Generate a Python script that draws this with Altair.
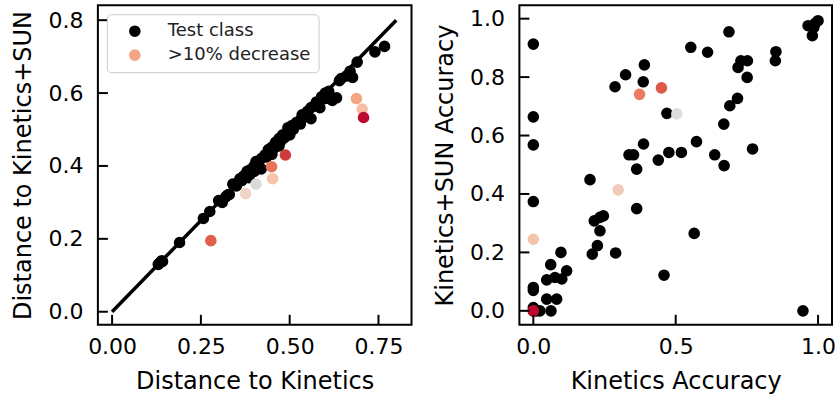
import altair as alt
import pandas as pd

# ---------------- Left panel: distances ----------------
left_black_x = [0.13, 0.135, 0.14, 0.142, 0.19, 0.257, 0.275, 0.30, 0.31, 0.32, 0.325, 0.33,
                0.34, 0.35, 0.355, 0.36, 0.365, 0.37, 0.38, 0.382, 0.39, 0.40, 0.405, 0.41,
                0.42, 0.42, 0.43, 0.435, 0.44, 0.445, 0.45, 0.455, 0.46, 0.465, 0.47, 0.475,
                0.48, 0.485, 0.49, 0.495, 0.50, 0.505, 0.51, 0.515, 0.52, 0.53, 0.535, 0.54,
                0.55, 0.56, 0.56, 0.57, 0.575, 0.58, 0.59, 0.60, 0.61, 0.62, 0.632, 0.64,
                0.645, 0.66, 0.67, 0.677, 0.69, 0.74, 0.767,
                0.385, 0.40, 0.45, 0.47, 0.50, 0.53, 0.55, 0.585, 0.60]
left_black_y = [0.13, 0.135, 0.14, 0.138, 0.19, 0.256, 0.275, 0.305, 0.30, 0.315, 0.32, 0.322,
                0.35, 0.345, 0.355, 0.365, 0.36, 0.372, 0.385, 0.375, 0.39, 0.40, 0.412, 0.405,
                0.392, 0.42, 0.43, 0.425, 0.445, 0.44, 0.452, 0.448, 0.465, 0.46, 0.475, 0.468,
                0.485, 0.478, 0.49, 0.505, 0.495, 0.51, 0.50, 0.515, 0.52, 0.525, 0.54, 0.535,
                0.55, 0.53, 0.56, 0.565, 0.575, 0.57, 0.59, 0.60, 0.605, 0.58, 0.587, 0.634,
                0.64, 0.647, 0.66, 0.643, 0.685, 0.713, 0.728,
                0.368, 0.385, 0.432, 0.455, 0.485, 0.515, 0.535, 0.56, 0.585]

left_dec_x = [0.278, 0.376, 0.405, 0.452, 0.449, 0.488, 0.688, 0.704, 0.708]
left_dec_y = [0.195, 0.324, 0.35, 0.365, 0.398, 0.43, 0.585, 0.556, 0.533]
left_dec_group = ["d_red2", "d_pale", "d_gray", "d_peach", "d_orange", "d_red1",
                  ">10% decrease", "d_peach2", "d_dark"]

group_names = ["Test class", ">10% decrease", "d_red2", "d_pale", "d_gray", "d_peach",
               "d_orange", "d_red1", "d_peach2", "d_dark"]
group_colors = ["#000000", "#f4a582", "#df5f4b", "#efd3c5", "#dadada", "#f5c4ab",
                "#e8735a", "#cf3b3a", "#f6bfa3", "#be0a2f"]

diag_x = [0.0, 0.8]
diag_y = [0.0, 0.8]

left_xticks = [0.0, 0.25, 0.5, 0.75]
left_yticks = [0.0, 0.2, 0.4, 0.6, 0.8]

# ---------------- Right panel: accuracies ----------------
right_black_x = [0.0, 0.0, 0.0, 0.199, 0.287, 0.324, 0.39, 0.386, 0.469, 0.387, 0.336, 0.352,
                 0.363, 0.439, 0.476, 0.52, 0.573, 0.553, 0.612, 0.687, 0.637, 0.67, 0.669,
                 0.69, 0.717, 0.719, 0.729, 0.752, 0.751, 0.77, 0.852, 0.85, 0.965, 0.98,
                 0.99, 1.0, 0.985,
                 0.0, 0.363, 0.565, 0.214, 0.234, 0.246, 0.234, 0.225, 0.207, 0.289, 0.459,
                 0.947, 0.097, 0.061, 0.047, 0.076, 0.1, 0.117, 0.0, 0.0, 0.047, 0.082, 0.0,
                 0.023, 0.062, 0.0, 0.01]
right_black_y = [0.913, 0.664, 0.568, 0.449, 0.767, 0.808, 0.842, 0.784, 0.676, 0.571, 0.534,
                 0.534, 0.485, 0.516, 0.542, 0.542, 0.579, 0.902, 0.885, 0.955, 0.534, 0.497,
                 0.639, 0.702, 0.727, 0.833, 0.856, 0.856, 0.799, 0.554, 0.887, 0.856, 0.976,
                 0.942, 0.984, 0.993, 0.97,
                 0.374, 0.35, 0.265, 0.308, 0.32, 0.325, 0.274, 0.223, 0.194, 0.198, 0.122,
                 0.0, 0.2, 0.158, 0.106, 0.114, 0.109, 0.137, 0.08, 0.07, 0.04, 0.04, 0.011,
                 0.0, 0.0, 0.0, 0.0]

right_dec_x = [0.373, 0.45, 0.504, 0.298, 0.0, 0.0]
right_dec_y = [0.741, 0.763, 0.674, 0.414, 0.245, 0.0]
right_dec_color = ["#ee7b60", "#dc5a48", "#dddddd", "#f1cbb9", "#f4c3a9", "#be0a2f"]

right_xticks = [0.0, 0.5, 1.0]
right_yticks = [0.0, 0.2, 0.4, 0.6, 0.8, 1.0]

# ---------------- Build tables ----------------
left_df = pd.DataFrame({
    "x": left_black_x + left_dec_x,
    "y": left_black_y + left_dec_y,
    "g": ["Test class"] * len(left_black_x) + left_dec_group,
})
left_df["order"] = range(len(left_df))
right_df = pd.DataFrame({
    "x": right_black_x + right_dec_x,
    "y": right_black_y + right_dec_y,
    "c": ["#000000"] * len(right_black_x) + right_dec_color,
})
right_df["order"] = range(len(right_df))

W_L, W_R, H = 314, 313, 320
TICK = 10
FONT = "DejaVu Sans"
PT = 135

lxs = alt.Scale(domain=[-0.04, 0.843], nice=False, zero=False)
lys = alt.Scale(domain=[-0.036, 0.841], nice=False, zero=False)
rxs = alt.Scale(domain=[-0.049, 1.049], nice=False, zero=False)
rys = alt.Scale(domain=[-0.048, 1.046], nice=False, zero=False)

lx_axis = alt.Axis(title="Distance to Kinetics", values=left_xticks, format=".2f")
ly_axis = alt.Axis(title="Distance to Kinetics+SUN", values=left_yticks, format=".1f")
rx_axis = alt.Axis(title="Kinetics Accuracy", values=right_xticks, format=".1f")
ry_axis = alt.Axis(title="Kinetics+SUN Accuracy", values=right_yticks, format=".1f")


def xtick_layer(vals, scale, axis):
    return alt.Chart(pd.DataFrame({"x": vals})).mark_rule(color="black", strokeWidth=2).encode(
        x=alt.X("x:Q", scale=scale, axis=axis),
        y=alt.value(H - TICK), y2=alt.value(H))


def ytick_layer(vals, scale, axis):
    return alt.Chart(pd.DataFrame({"y": vals})).mark_rule(color="black", strokeWidth=2).encode(
        y=alt.Y("y:Q", scale=scale, axis=axis),
        x=alt.value(0), x2=alt.value(TICK))


diag = alt.Chart(pd.DataFrame({"x": diag_x, "y": diag_y})).mark_line(
    color="black", strokeWidth=3.5).encode(
    x=alt.X("x:Q", scale=lxs, axis=lx_axis),
    y=alt.Y("y:Q", scale=lys, axis=ly_axis))

left_pts = alt.Chart(left_df).mark_circle(size=PT, opacity=1).encode(
    x=alt.X("x:Q", scale=lxs, axis=lx_axis),
    y=alt.Y("y:Q", scale=lys, axis=ly_axis),
    color=alt.Color("g:N", scale=alt.Scale(domain=group_names, range=group_colors),
                    legend=alt.Legend(values=["Test class", ">10% decrease"], title=None,
                                      orient="top-left", offset=9)),
    order=alt.Order("order:Q"))

left = alt.layer(diag, left_pts, xtick_layer(left_xticks, lxs, lx_axis),
                 ytick_layer(left_yticks, lys, ly_axis)).properties(width=W_L, height=H)

right_pts = alt.Chart(right_df).mark_circle(size=PT, opacity=1).encode(
    x=alt.X("x:Q", scale=rxs, axis=rx_axis),
    y=alt.Y("y:Q", scale=rys, axis=ry_axis),
    color=alt.Color("c:N", scale=None),
    order=alt.Order("order:Q"))

right = alt.layer(right_pts, xtick_layer(right_xticks, rxs, rx_axis),
                  ytick_layer(right_yticks, rys, ry_axis)).properties(width=W_R, height=H)

chart = alt.hconcat(left, right, spacing=20).properties(
    padding={"left": 11, "top": 4, "right": 2, "bottom": 2}
).configure_view(
    stroke="black", strokeWidth=2
).configure_axis(
    domain=False, ticks=False, grid=False,
    labelFont=FONT, titleFont=FONT, labelFontSize=22, titleFontSize=24,
    labelColor="black", titleColor="black", titleFontWeight="normal",
    labelPadding=12, titlePadding=12, labelFlush=False, labelOverlap=False
).configure_axisY(
    labelPadding=15
).configure_legend(
    labelFont=FONT, labelFontSize=18, labelColor="#222222",
    strokeColor="#cccccc", fillColor="white", padding=8, cornerRadius=4,
    symbolSize=PT, symbolType="circle", symbolStrokeWidth=0, symbolOpacity=1,
    symbolOffset=11, labelOffset=24, rowPadding=6
)

chart.save("out.html", embed_options={"renderer": "svg", "actions": False})
